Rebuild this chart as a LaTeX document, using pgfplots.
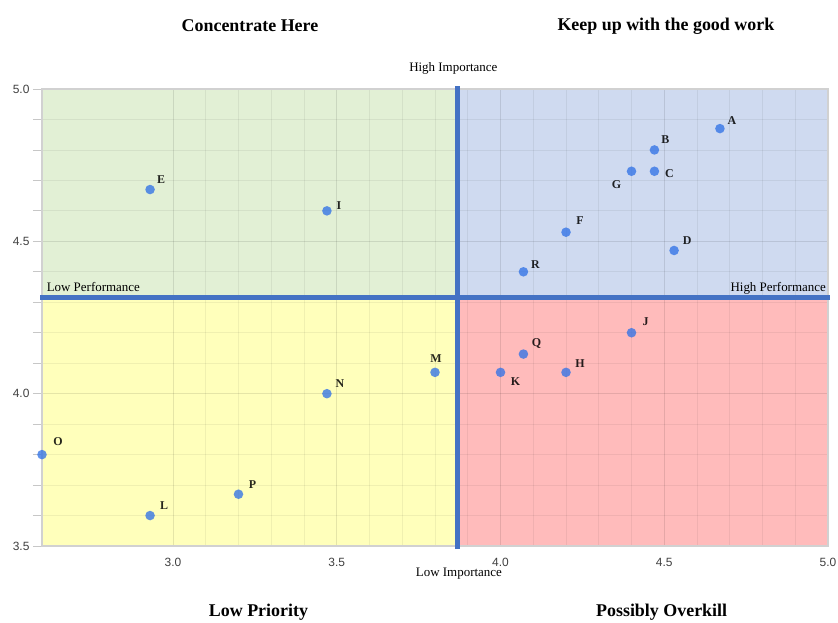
\documentclass[border=0pt]{standalone}
\usepackage{pgfplots}
\pgfplotsset{compat=1.18}
\usepackage{pgfplotstable}
\usepackage{fontspec}
\setmainfont{Liberation Serif}
\newfontfamily\tickfont{Liberation Sans}

\definecolor{qgreen}{RGB}{226,240,213}
\definecolor{qblue}{RGB}{207,218,240}
\definecolor{qyellow}{RGB}{255,255,187}
\definecolor{qpink}{RGB}{255,187,187}
\definecolor{divblue}{RGB}{68,114,196}
\definecolor{dotblue}{RGB}{50,115,230}

% x y label, label offset (dx, dy) in bp
\pgfplotstableread{
x    y    lab dx  dy
4.67 4.87 A   12  8
4.47 4.80 B   11  10
4.47 4.73 C   15  -2
4.53 4.47 D   13  10
2.93 4.67 E   11  10
4.20 4.53 F   14  12
4.40 4.73 G   -15 -13
4.20 4.07 H   14  9
3.47 4.60 I   12  5
4.40 4.20 J   14  11
4.00 4.07 K   15  -9
2.93 3.60 L   14  10
3.80 4.07 M   1   14
3.47 4.00 N   13  10
2.60 3.80 O   16  13
3.20 3.67 P   14  10
4.07 4.13 Q   13  11
4.07 4.40 R   12  7
}\pts

\begin{document}
\begin{tikzpicture}
\begin{axis}[
  set layers=standard,
  scale only axis,
  width=786bp, height=457bp,
  xmin=2.6, xmax=5.0, ymin=3.5, ymax=5.0,
  clip=false,
  xtick={3.0,3.5,4.0,4.5,5.0},
  xticklabels={3.0,3.5,4.0,4.5,5.0},
  ytick={3.5,4.0,4.5,5.0},
  yticklabels={3.5,4.0,4.5,5.0},
  xtick pos=bottom, ytick pos=left,
  minor tick num=4,
  grid=both,
  major grid style={draw=black, draw opacity=0.10, line width=0.8bp},
  minor grid style={draw=black, draw opacity=0.06, line width=0.8bp},
  axis line style={draw=black!18, line width=1.5bp},
  tick align=outside,
  major tick length=9bp, minor tick length=9bp,
  x tick style={draw=none},
  minor x tick style={draw=none},
  y tick style={draw=black!22, line width=0.8bp},
  minor y tick style={draw=black!22, line width=0.8bp},
  tick label style={font=\tickfont\fontsize{12}{14}\selectfont, text=black!75},
]
\begin{pgfonlayer}{axis background}
\fill[qgreen]  (axis cs:2.6,4.316)   rectangle (axis cs:3.868,5.0);
\fill[qblue]   (axis cs:3.868,4.316) rectangle (axis cs:5.0,5.0);
\fill[qyellow] (axis cs:2.6,3.5)     rectangle (axis cs:3.868,4.316);
\fill[qpink]   (axis cs:3.868,3.5)   rectangle (axis cs:5.0,4.316);
\end{pgfonlayer}

\draw[divblue, line width=5bp] (axis cs:3.868,3.49) -- (axis cs:3.868,5.01);
\draw[divblue, line width=5bp] (axis cs:2.594,4.316) -- (axis cs:5.006,4.316);

\addplot[color=dotblue, only marks, mark=*, mark size=4.8pt,
  mark options={draw opacity=0, fill=dotblue, fill opacity=0.78},
  point meta=explicit symbolic,
  visualization depends on={\thisrow{dx} \as \dx},
  visualization depends on={\thisrow{dy} \as \dy},
  nodes near coords,
  every node near coord/.append style={anchor=center, inner sep=0pt,
    xshift=\dx bp, yshift=\dy bp,
    font=\bfseries\fontsize{12}{14}\selectfont, text=black, text opacity=0.85},
] table[x=x, y=y, meta=lab] {\pts};

\node[font=\fontsize{13}{15}\selectfont, anchor=base west, inner sep=0pt] at (axis cs:2.614,4.334) {Low Performance};
\node[font=\fontsize{13}{15}\selectfont, anchor=base east, inner sep=0pt] at (axis cs:4.994,4.334) {High Performance};
\node[font=\fontsize{13}{15}\selectfont] at (axis cs:3.856,5.069) {High Importance};
\node[font=\fontsize{13}{15}\selectfont] at (axis cs:3.873,3.41) {Low Importance};

\node[font=\bfseries\fontsize{18}{20}\selectfont] at (axis cs:3.235,5.207) {Concentrate Here};
\node[font=\bfseries\fontsize{18}{20}\selectfont] at (axis cs:4.505,5.207) {Keep up with the good work};
\node[font=\bfseries\fontsize{18}{20}\selectfont] at (axis cs:3.261,3.284) {Low Priority};
\node[font=\bfseries\fontsize{18}{20}\selectfont] at (axis cs:4.492,3.284) {Possibly Overkill};

\coordinate (bbA) at (axis cs:2.4718,3.2506);
\coordinate (bbB) at (axis cs:5.0305,5.2921);
\end{axis}
\pgfresetboundingbox
\path[use as bounding box] (bbA) rectangle (bbB);
\end{tikzpicture}
\end{document}
